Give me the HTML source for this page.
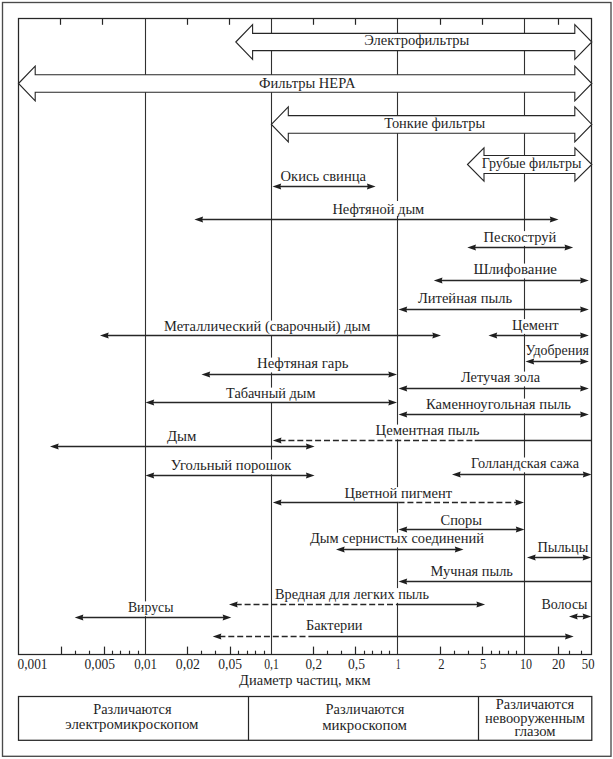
<!DOCTYPE html>
<html lang="ru">
<head>
<meta charset="utf-8">
<title>Диаметр частиц</title>
<style>
html,body{margin:0;padding:0;background:#fff;}
body{width:613px;height:759px;position:relative;overflow:hidden;font-family:"Liberation Serif",serif;}
svg text{font-family:"Liberation Serif",serif;white-space:pre;}
</style>
</head>
<body>
<svg width="613" height="759" viewBox="0 0 613 759" style="position:absolute;left:0;top:0;display:block">
<rect x="0" y="0" width="613" height="759" fill="#fff"/>
<rect x="2.5" y="2.5" width="608.5" height="753.8" fill="none" stroke="#4a4a4a" stroke-width="1.35"/>
<line x1="145.5" y1="18.5" x2="145.5" y2="654.5" stroke="#303030" stroke-width="1.1"/>
<line x1="271.5" y1="18.5" x2="271.5" y2="654.5" stroke="#303030" stroke-width="1.1"/>
<line x1="397.5" y1="18.5" x2="397.5" y2="654.5" stroke="#303030" stroke-width="1.1"/>
<line x1="524.5" y1="18.5" x2="524.5" y2="654.5" stroke="#303030" stroke-width="1.1"/>
<line x1="60.50" y1="18.5" x2="60.50" y2="24.8" stroke="#262626" stroke-width="1.2"/>
<line x1="102.50" y1="18.5" x2="102.50" y2="24.8" stroke="#262626" stroke-width="1.2"/>
<line x1="187.50" y1="18.5" x2="187.50" y2="24.8" stroke="#262626" stroke-width="1.2"/>
<line x1="229.50" y1="18.5" x2="229.50" y2="24.8" stroke="#262626" stroke-width="1.2"/>
<line x1="313.50" y1="18.5" x2="313.50" y2="24.8" stroke="#262626" stroke-width="1.2"/>
<line x1="355.50" y1="18.5" x2="355.50" y2="24.8" stroke="#262626" stroke-width="1.2"/>
<line x1="440.50" y1="18.5" x2="440.50" y2="24.8" stroke="#262626" stroke-width="1.2"/>
<line x1="482.50" y1="18.5" x2="482.50" y2="24.8" stroke="#262626" stroke-width="1.2"/>
<line x1="558.50" y1="18.5" x2="558.50" y2="24.8" stroke="#262626" stroke-width="1.2"/>
<line x1="61.50" y1="654.5" x2="61.50" y2="646.6" stroke="#262626" stroke-width="1.2"/>
<line x1="104.50" y1="654.5" x2="104.50" y2="646.6" stroke="#262626" stroke-width="1.2"/>
<line x1="187.50" y1="654.5" x2="187.50" y2="646.6" stroke="#262626" stroke-width="1.2"/>
<line x1="230.50" y1="654.5" x2="230.50" y2="646.6" stroke="#262626" stroke-width="1.2"/>
<line x1="313.50" y1="654.5" x2="313.50" y2="646.6" stroke="#262626" stroke-width="1.2"/>
<line x1="355.50" y1="654.5" x2="355.50" y2="646.6" stroke="#262626" stroke-width="1.2"/>
<line x1="440.50" y1="654.5" x2="440.50" y2="646.6" stroke="#262626" stroke-width="1.2"/>
<line x1="482.50" y1="654.5" x2="482.50" y2="646.6" stroke="#262626" stroke-width="1.2"/>
<line x1="558.50" y1="654.5" x2="558.50" y2="646.6" stroke="#262626" stroke-width="1.2"/>
<line x1="75.50" y1="654.5" x2="75.50" y2="650.7" stroke="#262626" stroke-width="1.15"/>
<line x1="89.50" y1="654.5" x2="89.50" y2="650.7" stroke="#262626" stroke-width="1.15"/>
<line x1="112.50" y1="654.5" x2="112.50" y2="650.7" stroke="#262626" stroke-width="1.15"/>
<line x1="120.50" y1="654.5" x2="120.50" y2="650.7" stroke="#262626" stroke-width="1.15"/>
<line x1="129.50" y1="654.5" x2="129.50" y2="650.7" stroke="#262626" stroke-width="1.15"/>
<line x1="138.50" y1="654.5" x2="138.50" y2="650.7" stroke="#262626" stroke-width="1.15"/>
<line x1="201.50" y1="654.5" x2="201.50" y2="650.7" stroke="#262626" stroke-width="1.15"/>
<line x1="215.50" y1="654.5" x2="215.50" y2="650.7" stroke="#262626" stroke-width="1.15"/>
<line x1="238.50" y1="654.5" x2="238.50" y2="650.7" stroke="#262626" stroke-width="1.15"/>
<line x1="247.50" y1="654.5" x2="247.50" y2="650.7" stroke="#262626" stroke-width="1.15"/>
<line x1="255.50" y1="654.5" x2="255.50" y2="650.7" stroke="#262626" stroke-width="1.15"/>
<line x1="264.50" y1="654.5" x2="264.50" y2="650.7" stroke="#262626" stroke-width="1.15"/>
<line x1="327.50" y1="654.5" x2="327.50" y2="650.7" stroke="#262626" stroke-width="1.15"/>
<line x1="341.50" y1="654.5" x2="341.50" y2="650.7" stroke="#262626" stroke-width="1.15"/>
<line x1="364.50" y1="654.5" x2="364.50" y2="650.7" stroke="#262626" stroke-width="1.15"/>
<line x1="372.50" y1="654.5" x2="372.50" y2="650.7" stroke="#262626" stroke-width="1.15"/>
<line x1="381.50" y1="654.5" x2="381.50" y2="650.7" stroke="#262626" stroke-width="1.15"/>
<line x1="389.50" y1="654.5" x2="389.50" y2="650.7" stroke="#262626" stroke-width="1.15"/>
<line x1="454.50" y1="654.5" x2="454.50" y2="650.7" stroke="#262626" stroke-width="1.15"/>
<line x1="468.50" y1="654.5" x2="468.50" y2="650.7" stroke="#262626" stroke-width="1.15"/>
<line x1="491.50" y1="654.5" x2="491.50" y2="650.7" stroke="#262626" stroke-width="1.15"/>
<line x1="499.50" y1="654.5" x2="499.50" y2="650.7" stroke="#262626" stroke-width="1.15"/>
<line x1="508.50" y1="654.5" x2="508.50" y2="650.7" stroke="#262626" stroke-width="1.15"/>
<line x1="516.50" y1="654.5" x2="516.50" y2="650.7" stroke="#262626" stroke-width="1.15"/>
<line x1="569.50" y1="654.5" x2="569.50" y2="650.7" stroke="#262626" stroke-width="1.15"/>
<line x1="581.50" y1="654.5" x2="581.50" y2="650.7" stroke="#262626" stroke-width="1.15"/>
<rect x="279.0" y="170.8" width="88.5" height="14.8" fill="#fff"/>
<rect x="330.9" y="201.0" width="94.9" height="14.8" fill="#fff"/>
<rect x="482.1" y="231.1" width="75.8" height="14.8" fill="#fff"/>
<rect x="471.9" y="263.6" width="86.6" height="14.8" fill="#fff"/>
<rect x="416.5" y="292.6" width="97.0" height="14.8" fill="#fff"/>
<rect x="162.5" y="320.6" width="209.5" height="14.8" fill="#fff"/>
<rect x="510.5" y="319.1" width="49.5" height="14.8" fill="#fff"/>
<rect x="255.5" y="357.6" width="94.5" height="14.8" fill="#fff"/>
<rect x="459.5" y="371.6" width="82.0" height="14.8" fill="#fff"/>
<rect x="224.5" y="387.6" width="92.5" height="14.8" fill="#fff"/>
<rect x="424.5" y="398.6" width="148.0" height="14.8" fill="#fff"/>
<rect x="374.0" y="424.6" width="107.0" height="14.8" fill="#fff"/>
<rect x="165.5" y="430.6" width="32.5" height="14.8" fill="#fff"/>
<rect x="169.3" y="459.6" width="123.6" height="14.8" fill="#fff"/>
<rect x="469.5" y="457.5" width="111.1" height="14.8" fill="#fff"/>
<rect x="343.0" y="487.1" width="110.5" height="14.8" fill="#fff"/>
<rect x="439.0" y="514.1" width="44.5" height="14.8" fill="#fff"/>
<rect x="308.5" y="532.6" width="177.0" height="14.8" fill="#fff"/>
<rect x="536.0" y="542.0" width="53.8" height="14.8" fill="#fff"/>
<rect x="429.1" y="565.5" width="85.3" height="14.8" fill="#fff"/>
<rect x="273.5" y="588.1" width="157.0" height="14.8" fill="#fff"/>
<rect x="126.4" y="601.4" width="48.6" height="14.8" fill="#fff"/>
<rect x="540.0" y="598.2" width="49.0" height="14.8" fill="#fff"/>
<rect x="304.5" y="619.6" width="59.5" height="14.8" fill="#fff"/>
<rect x="18.5" y="18.5" width="573.0" height="636.0" fill="none" stroke="#262626" stroke-width="1.25"/>
<polygon points="235.8,42.0 252.6,24.6 252.6,33.4 574.8,33.4 574.8,24.6 591.8,42.0 574.8,59.4 574.8,50.6 252.6,50.6 252.6,59.4" fill="#fff" stroke="#262626" stroke-width="1.1" stroke-linejoin="miter"/>
<polygon points="18.5,83.5 35.2,66.2 35.2,74.8 574.8,74.8 574.8,66.2 591.8,83.5 574.8,100.8 574.8,92.2 35.2,92.2 35.2,100.8" fill="#fff" stroke="#262626" stroke-width="1.1" stroke-linejoin="miter"/>
<polygon points="271.4,124.4 288.3,106.9 288.3,115.6 574.8,115.6 574.8,106.9 591.8,124.4 574.8,141.9 574.8,133.2 288.3,133.2 288.3,141.9" fill="#fff" stroke="#262626" stroke-width="1.1" stroke-linejoin="miter"/>
<polygon points="467.5,164.5 484.0,147.9 484.0,155.5 574.9,155.5 574.9,147.9 591.8,164.5 574.9,181.1 574.9,173.5 484.0,173.5 484.0,181.1" fill="#fff" stroke="#262626" stroke-width="1.1" stroke-linejoin="miter"/>
<line x1="279.20" y1="186.50" x2="368.90" y2="186.50" stroke="#262626" stroke-width="1.3"/>
<polygon points="272.50,186.50 281.20,183.40 280.30,186.50 281.20,189.60" fill="#1f1f1f"/>
<polygon points="375.60,186.50 366.90,183.40 367.80,186.50 366.90,189.60" fill="#1f1f1f"/>
<line x1="201.10" y1="219.50" x2="551.80" y2="219.50" stroke="#262626" stroke-width="1.3"/>
<polygon points="194.40,219.50 203.10,216.40 202.20,219.50 203.10,222.60" fill="#1f1f1f"/>
<polygon points="558.50,219.50 549.80,216.40 550.70,219.50 549.80,222.60" fill="#1f1f1f"/>
<line x1="474.00" y1="247.50" x2="566.50" y2="247.50" stroke="#262626" stroke-width="1.3"/>
<polygon points="467.30,247.50 476.00,244.40 475.10,247.50 476.00,250.60" fill="#1f1f1f"/>
<polygon points="573.20,247.50 564.50,244.40 565.40,247.50 564.50,250.60" fill="#1f1f1f"/>
<line x1="440.50" y1="280.50" x2="582.10" y2="280.50" stroke="#262626" stroke-width="1.3"/>
<polygon points="433.80,280.50 442.50,277.40 441.60,280.50 442.50,283.60" fill="#1f1f1f"/>
<polygon points="588.80,280.50 580.10,277.40 581.00,280.50 580.10,283.60" fill="#1f1f1f"/>
<line x1="405.20" y1="309.50" x2="582.10" y2="309.50" stroke="#262626" stroke-width="1.3"/>
<polygon points="398.50,309.50 407.20,306.40 406.30,309.50 407.20,312.60" fill="#1f1f1f"/>
<polygon points="588.80,309.50 580.10,306.40 581.00,309.50 580.10,312.60" fill="#1f1f1f"/>
<line x1="106.70" y1="335.50" x2="434.30" y2="335.50" stroke="#262626" stroke-width="1.3"/>
<polygon points="100.00,335.50 108.70,332.40 107.80,335.50 108.70,338.60" fill="#1f1f1f"/>
<polygon points="441.00,335.50 432.30,332.40 433.20,335.50 432.30,338.60" fill="#1f1f1f"/>
<line x1="495.20" y1="335.50" x2="582.10" y2="335.50" stroke="#262626" stroke-width="1.3"/>
<polygon points="488.50,335.50 497.20,332.40 496.30,335.50 497.20,338.60" fill="#1f1f1f"/>
<polygon points="588.80,335.50 580.10,332.40 581.00,335.50 580.10,338.60" fill="#1f1f1f"/>
<line x1="532.20" y1="361.50" x2="582.10" y2="361.50" stroke="#262626" stroke-width="1.3"/>
<polygon points="525.50,361.50 534.20,358.40 533.30,361.50 534.20,364.60" fill="#1f1f1f"/>
<polygon points="588.80,361.50 580.10,358.40 581.00,361.50 580.10,364.60" fill="#1f1f1f"/>
<line x1="208.20" y1="374.50" x2="390.30" y2="374.50" stroke="#262626" stroke-width="1.3"/>
<polygon points="201.50,374.50 210.20,371.40 209.30,374.50 210.20,377.60" fill="#1f1f1f"/>
<polygon points="397.00,374.50 388.30,371.40 389.20,374.50 388.30,377.60" fill="#1f1f1f"/>
<line x1="405.20" y1="388.50" x2="582.10" y2="388.50" stroke="#262626" stroke-width="1.3"/>
<polygon points="398.50,388.50 407.20,385.40 406.30,388.50 407.20,391.60" fill="#1f1f1f"/>
<polygon points="588.80,388.50 580.10,385.40 581.00,388.50 580.10,391.60" fill="#1f1f1f"/>
<line x1="152.20" y1="402.50" x2="390.30" y2="402.50" stroke="#262626" stroke-width="1.3"/>
<polygon points="145.50,402.50 154.20,399.40 153.30,402.50 154.20,405.60" fill="#1f1f1f"/>
<polygon points="397.00,402.50 388.30,399.40 389.20,402.50 388.30,405.60" fill="#1f1f1f"/>
<line x1="405.20" y1="414.50" x2="582.10" y2="414.50" stroke="#262626" stroke-width="1.3"/>
<polygon points="398.50,414.50 407.20,411.40 406.30,414.50 407.20,417.60" fill="#1f1f1f"/>
<polygon points="588.80,414.50 580.10,411.40 581.00,414.50 580.10,417.60" fill="#1f1f1f"/>
<line x1="279.50" y1="440.50" x2="474.70" y2="440.50" stroke="#262626" stroke-width="1.3" stroke-dasharray="6 2.9"/>
<line x1="474.70" y1="440.50" x2="592.00" y2="440.50" stroke="#262626" stroke-width="1.3"/>
<polygon points="272.80,440.50 281.50,437.40 280.60,440.50 281.50,443.60" fill="#1f1f1f"/>
<line x1="56.70" y1="446.50" x2="307.90" y2="446.50" stroke="#262626" stroke-width="1.3"/>
<polygon points="50.00,446.50 58.70,443.40 57.80,446.50 58.70,449.60" fill="#1f1f1f"/>
<polygon points="314.60,446.50 305.90,443.40 306.80,446.50 305.90,449.60" fill="#1f1f1f"/>
<line x1="152.20" y1="475.50" x2="307.90" y2="475.50" stroke="#262626" stroke-width="1.3"/>
<polygon points="145.50,475.50 154.20,472.40 153.30,475.50 154.20,478.60" fill="#1f1f1f"/>
<polygon points="314.60,475.50 305.90,472.40 306.80,475.50 305.90,478.60" fill="#1f1f1f"/>
<line x1="458.70" y1="474.50" x2="584.80" y2="474.50" stroke="#262626" stroke-width="1.3"/>
<polygon points="452.00,474.50 460.70,471.40 459.80,474.50 460.70,477.60" fill="#1f1f1f"/>
<polygon points="591.50,474.50 582.80,471.40 583.70,474.50 582.80,477.60" fill="#1f1f1f"/>
<line x1="279.50" y1="502.50" x2="398.50" y2="502.50" stroke="#262626" stroke-width="1.3"/>
<line x1="398.50" y1="502.50" x2="517.30" y2="502.50" stroke="#262626" stroke-width="1.3" stroke-dasharray="6 2.9"/>
<polygon points="272.80,502.50 281.50,499.40 280.60,502.50 281.50,505.60" fill="#1f1f1f"/>
<polygon points="524.00,502.50 515.30,499.40 516.20,502.50 515.30,505.60" fill="#1f1f1f"/>
<line x1="405.20" y1="529.50" x2="517.80" y2="529.50" stroke="#262626" stroke-width="1.3"/>
<polygon points="398.50,529.50 407.20,526.40 406.30,529.50 407.20,532.60" fill="#1f1f1f"/>
<polygon points="524.50,529.50 515.80,526.40 516.70,529.50 515.80,532.60" fill="#1f1f1f"/>
<line x1="342.70" y1="549.50" x2="456.80" y2="549.50" stroke="#262626" stroke-width="1.3"/>
<polygon points="336.00,549.50 344.70,546.40 343.80,549.50 344.70,552.60" fill="#1f1f1f"/>
<polygon points="463.50,549.50 454.80,546.40 455.70,549.50 454.80,552.60" fill="#1f1f1f"/>
<line x1="533.70" y1="557.50" x2="584.60" y2="557.50" stroke="#262626" stroke-width="1.3"/>
<polygon points="527.00,557.50 535.70,554.40 534.80,557.50 535.70,560.60" fill="#1f1f1f"/>
<polygon points="591.30,557.50 582.60,554.40 583.50,557.50 582.60,560.60" fill="#1f1f1f"/>
<line x1="405.20" y1="581.50" x2="592.00" y2="581.50" stroke="#262626" stroke-width="1.3"/>
<polygon points="398.50,581.50 407.20,578.40 406.30,581.50 407.20,584.60" fill="#1f1f1f"/>
<line x1="235.70" y1="604.50" x2="397.00" y2="604.50" stroke="#262626" stroke-width="1.3" stroke-dasharray="6 2.9"/>
<line x1="397.00" y1="604.50" x2="478.40" y2="604.50" stroke="#262626" stroke-width="1.3"/>
<polygon points="229.00,604.50 237.70,601.40 236.80,604.50 237.70,607.60" fill="#1f1f1f"/>
<polygon points="485.10,604.50 476.40,601.40 477.30,604.50 476.40,607.60" fill="#1f1f1f"/>
<line x1="81.40" y1="617.50" x2="224.60" y2="617.50" stroke="#262626" stroke-width="1.3"/>
<polygon points="74.70,617.50 83.40,614.40 82.50,617.50 83.40,620.60" fill="#1f1f1f"/>
<polygon points="231.30,617.50 222.60,614.40 223.50,617.50 222.60,620.60" fill="#1f1f1f"/>
<line x1="575.70" y1="616.50" x2="584.60" y2="616.50" stroke="#262626" stroke-width="1.3"/>
<polygon points="569.00,616.50 577.70,613.40 576.80,616.50 577.70,619.60" fill="#1f1f1f"/>
<polygon points="591.30,616.50 582.60,613.40 583.50,616.50 582.60,619.60" fill="#1f1f1f"/>
<line x1="219.40" y1="636.50" x2="314.00" y2="636.50" stroke="#262626" stroke-width="1.3" stroke-dasharray="6 2.9"/>
<line x1="314.00" y1="636.50" x2="567.00" y2="636.50" stroke="#262626" stroke-width="1.3"/>
<polygon points="212.70,636.50 221.40,633.40 220.50,636.50 221.40,639.60" fill="#1f1f1f"/>
<polygon points="573.70,636.50 565.00,633.40 565.90,636.50 565.00,639.60" fill="#1f1f1f"/>
<g font-family="'Liberation Serif', serif" fill="#1f1f1f">
<text x="364.2" y="45.4" textLength="105.0" lengthAdjust="spacingAndGlyphs" font-size="14">Электрофильтры</text>
<text x="259.1" y="87.6" textLength="96.3" lengthAdjust="spacingAndGlyphs" font-size="14">Фильтры HEPA</text>
<text x="384.2" y="128.4" textLength="100.9" lengthAdjust="spacingAndGlyphs" font-size="14">Тонкие фильтры</text>
<text x="481.7" y="168.2" textLength="99.7" lengthAdjust="spacingAndGlyphs" font-size="14">Грубые фильтры</text>
<text x="280.5" y="181.2" textLength="85.5" lengthAdjust="spacingAndGlyphs" font-size="14">Окись свинца</text>
<text x="332.4" y="214.0" textLength="91.9" lengthAdjust="spacingAndGlyphs" font-size="14">Нефтяной дым</text>
<text x="483.6" y="241.5" textLength="72.8" lengthAdjust="spacingAndGlyphs" font-size="14">Пескоструй</text>
<text x="473.4" y="274.0" textLength="83.6" lengthAdjust="spacingAndGlyphs" font-size="14">Шлифование</text>
<text x="418.0" y="303.0" textLength="94.0" lengthAdjust="spacingAndGlyphs" font-size="14">Литейная пыль</text>
<text x="164.0" y="331.0" textLength="206.5" lengthAdjust="spacingAndGlyphs" font-size="14">Металлический (сварочный) дым</text>
<text x="512.0" y="329.5" textLength="46.5" lengthAdjust="spacingAndGlyphs" font-size="14">Цемент</text>
<text x="525.6" y="355.0" textLength="63.4" lengthAdjust="spacingAndGlyphs" font-size="14">Удобрения</text>
<text x="257.0" y="368.0" textLength="91.5" lengthAdjust="spacingAndGlyphs" font-size="14">Нефтяная гарь</text>
<text x="461.0" y="382.0" textLength="79.0" lengthAdjust="spacingAndGlyphs" font-size="14">Летучая зола</text>
<text x="226.0" y="398.0" textLength="89.5" lengthAdjust="spacingAndGlyphs" font-size="14">Табачный дым</text>
<text x="426.0" y="409.0" textLength="145.0" lengthAdjust="spacingAndGlyphs" font-size="14">Каменноугольная пыль</text>
<text x="375.5" y="435.0" textLength="104.0" lengthAdjust="spacingAndGlyphs" font-size="14">Цементная пыль</text>
<text x="167.0" y="441.0" textLength="29.5" lengthAdjust="spacingAndGlyphs" font-size="14">Дым</text>
<text x="170.8" y="470.0" textLength="120.6" lengthAdjust="spacingAndGlyphs" font-size="14">Угольный порошок</text>
<text x="471.0" y="467.9" textLength="108.1" lengthAdjust="spacingAndGlyphs" font-size="14">Голландская сажа</text>
<text x="344.5" y="497.5" textLength="107.5" lengthAdjust="spacingAndGlyphs" font-size="14">Цветной пигмент</text>
<text x="440.5" y="524.5" textLength="41.5" lengthAdjust="spacingAndGlyphs" font-size="14">Споры</text>
<text x="310.0" y="543.0" textLength="174.0" lengthAdjust="spacingAndGlyphs" font-size="14">Дым сернистых соединений</text>
<text x="537.5" y="552.4" textLength="50.8" lengthAdjust="spacingAndGlyphs" font-size="14">Пыльцы</text>
<text x="430.6" y="575.9" textLength="82.3" lengthAdjust="spacingAndGlyphs" font-size="14">Мучная пыль</text>
<text x="275.0" y="598.5" textLength="154.0" lengthAdjust="spacingAndGlyphs" font-size="14">Вредная для легких пыль</text>
<text x="127.9" y="611.8" textLength="45.6" lengthAdjust="spacingAndGlyphs" font-size="14">Вирусы</text>
<text x="541.5" y="608.6" textLength="46.0" lengthAdjust="spacingAndGlyphs" font-size="14">Волосы</text>
<text x="306.0" y="630.0" textLength="56.5" lengthAdjust="spacingAndGlyphs" font-size="14">Бактерии</text>
<text x="17.5" y="668.6" textLength="30.0" lengthAdjust="spacingAndGlyphs" font-size="14">0,001</text>
<text x="84.5" y="668.6" textLength="30.5" lengthAdjust="spacingAndGlyphs" font-size="14">0,005</text>
<text x="134.2" y="668.6" textLength="22.8" lengthAdjust="spacingAndGlyphs" font-size="14">0,01</text>
<text x="175.8" y="668.6" textLength="24.2" lengthAdjust="spacingAndGlyphs" font-size="14">0,02</text>
<text x="218.2" y="668.6" textLength="23.8" lengthAdjust="spacingAndGlyphs" font-size="14">0,05</text>
<text x="264.2" y="668.6" textLength="14.6" lengthAdjust="spacingAndGlyphs" font-size="14">0,1</text>
<text x="305.5" y="668.6" textLength="16.5" lengthAdjust="spacingAndGlyphs" font-size="14">0,2</text>
<text x="348.0" y="668.6" textLength="17.0" lengthAdjust="spacingAndGlyphs" font-size="14">0,5</text>
<text x="396.0" y="668.6" textLength="4.5" lengthAdjust="spacingAndGlyphs" font-size="14">1</text>
<text x="438.2" y="668.6" textLength="6.3" lengthAdjust="spacingAndGlyphs" font-size="14">2</text>
<text x="480.0" y="668.6" textLength="6.2" lengthAdjust="spacingAndGlyphs" font-size="14">5</text>
<text x="520.0" y="668.6" textLength="12.0" lengthAdjust="spacingAndGlyphs" font-size="14">10</text>
<text x="552.0" y="668.6" textLength="13.0" lengthAdjust="spacingAndGlyphs" font-size="14">20</text>
<text x="581.8" y="668.6" textLength="12.7" lengthAdjust="spacingAndGlyphs" font-size="14">50</text>
<text x="239.1" y="685.0" textLength="131.5" lengthAdjust="spacingAndGlyphs" font-size="14">Диаметр частиц, мкм</text>
<text x="93.2" y="713.6" textLength="78.3" lengthAdjust="spacingAndGlyphs" font-size="14">Различаются</text>
<text x="65.3" y="729.3" textLength="133.2" lengthAdjust="spacingAndGlyphs" font-size="14">электромикроскопом</text>
<text x="325.6" y="714.0" textLength="78.8" lengthAdjust="spacingAndGlyphs" font-size="14">Различаются</text>
<text x="322.2" y="729.7" textLength="84.8" lengthAdjust="spacingAndGlyphs" font-size="14">микроскопом</text>
<text x="495.8" y="708.8" textLength="78.4" lengthAdjust="spacingAndGlyphs" font-size="14">Различаются</text>
<text x="485.0" y="722.5" textLength="100.0" lengthAdjust="spacingAndGlyphs" font-size="14">невооруженным</text>
<text x="514.5" y="735.8" textLength="41.0" lengthAdjust="spacingAndGlyphs" font-size="14">глазом</text>
</g>
<rect x="18.5" y="696.5" width="573.3" height="43.799999999999955" fill="none" stroke="#262626" stroke-width="1.25"/>
<line x1="248.5" y1="696.5" x2="248.5" y2="740.3" stroke="#262626" stroke-width="1.2"/>
<line x1="478.5" y1="696.5" x2="478.5" y2="740.3" stroke="#262626" stroke-width="1.2"/>
</svg>
</body>
</html>
